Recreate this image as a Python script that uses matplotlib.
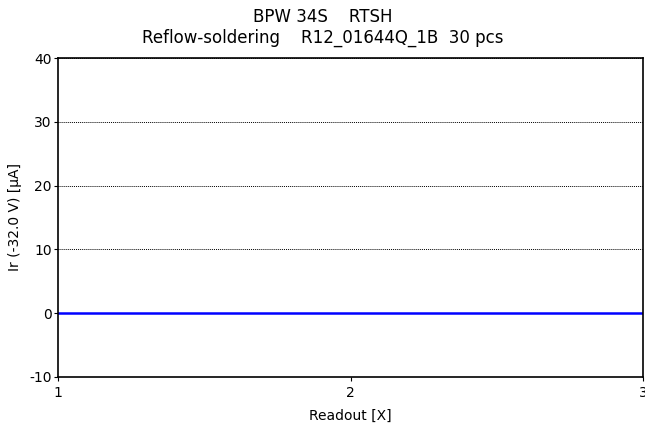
import matplotlib
matplotlib.use('Agg')
import matplotlib.pyplot as plt

readout = [1, 2, 3]
ir_values = [0.0, 0.0, 0.0]
y_ticks = [-10, 0, 10, 20, 30, 40]
x_ticks = [1, 2, 3]

plt.rcParams['font.family'] = ['DejaVu Sans']
plt.rcParams['axes.unicode_minus'] = False

fig = plt.figure(figsize=(6.45, 4.23), dpi=100)
ax = fig.add_axes([58 / 645, 1 - 377 / 423, 585 / 645, 319 / 423])

ax.plot(readout, ir_values, color='#0000ff', linewidth=1.8)

ax.set_xlim(1, 3)
ax.set_ylim(-10, 40)
ax.set_xticks(x_ticks)
ax.set_yticks(y_ticks)
ax.tick_params(direction='out', length=3, labelsize=10, width=0.8)
ax.tick_params(axis='y', pad=1.5)
ax.yaxis.grid(True, linestyle=(0, (1, 1)), color='black', linewidth=0.7)

for sp in ax.spines.values():
    sp.set_linewidth(1.2)

ax.set_xlabel('Readout [X]', fontsize=10, labelpad=6)
fig.text(15 / 645, 1 - 217 / 423, 'Ir (-32.0 V) [µA]', rotation=90,
         ha='center', va='center', fontsize=10)

fig.text(0.5, 1 - 17 / 423, 'BPW 34S    RTSH', ha='center', va='center', fontsize=12)
fig.text(0.5, 1 - 38 / 423, 'Reflow-soldering    R12_01644Q_1B  30 pcs',
         ha='center', va='center', fontsize=12)

fig.savefig('out.png', dpi=100)
